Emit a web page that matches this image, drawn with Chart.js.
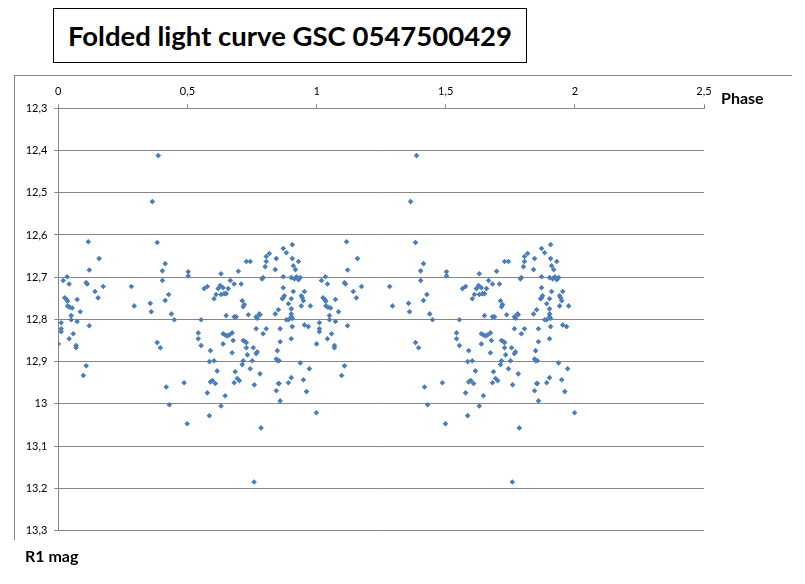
<!DOCTYPE html>
<html>
<head>
<meta charset="utf-8">
<script src="https://cdn.jsdelivr.net/npm/chart.js@4.4.1/dist/chart.umd.min.js"></script>
<style>
  html, body { margin: 0; padding: 0; background: #fff; }
  #wrap { position: relative; width: 805px; height: 584px; overflow: hidden; }
  #frame { position: absolute; left: 14px; top: 75px; width: 777px; height: 464px;
           border-left: 1px solid #868686; border-top: 1px solid #868686; }
  #title { position: absolute; left: 53px; top: 8px; width: 472px; height: 53px;
           border: 1px solid #000; display: flex; align-items: center; justify-content: center;
           font: bold 27.5px Lato, sans-serif; color: #000; }
  .axlbl { position: absolute; font: bold 16px Lato, sans-serif; color: #000; }
  #chart { position: absolute; left: 0; top: 0; }
</style>
</head>
<body>
<div id="wrap">
  <div id="frame"></div>
  <div id="title">Folded light curve GSC 0547500429</div>
  <canvas id="chart" width="805" height="584"></canvas>
  <div class="axlbl" style="left:721px; top:88px;">Phase</div>
  <div class="axlbl" style="left:25px; top:546px;">R1 mag</div>
</div>
<script>
// folded data, one cycle (phase 0..1); the chart shows it twice (phase and phase + 1)
const phase = [
  0.387, 0.364, 0.116, 0.383, 0.158, 0.414, 0.120, 0.403, 0.503, 0.503,
  0.034, 0.019, 0.042, 0.108, 0.112, 0.403, 0.174, 0.283, 0.142, 0.427,
  0.025, 0.032, 0.036, 0.073, 0.154, 0.414, 0.294, 0.356, 0.360, 0.036,
  0.044, 0.054, 0.085, 0.050, 0.050, 0.073, 0.011, 0.438, 0.449, 0.120,
  0.011, 0.011, 0.058, 0.042, 0.000, 0.069, 0.069, 0.383, 0.395, 0.108,
  0.097, 0.418, 0.487, 0.430, 0.499,
  0.728, 0.743, 0.630, 0.697, 0.666, 0.681, 0.708, 0.565, 0.577, 0.627,
  0.619, 0.638, 0.658, 0.611, 0.630, 0.642, 0.650, 0.603, 0.712, 0.720,
  0.716, 0.650, 0.681, 0.689, 0.736, 0.553,
  0.906, 0.871, 0.883, 0.817, 0.805, 0.805, 0.801, 0.844, 0.906, 0.930,
  0.910, 0.918, 0.840, 0.789, 0.793, 0.871, 0.902, 0.914, 0.922, 0.930,
  0.937, 0.871, 0.910, 0.953, 0.875, 0.871, 0.867, 0.902, 0.941, 0.945,
  0.949, 0.891, 0.941, 0.976, 0.852, 0.902, 0.840, 0.902, 0.902, 0.778,
  0.781, 0.766, 0.770, 0.883, 0.891, 0.906, 0.953, 0.968, 0.906, 0.859,
  0.805, 0.766,
  0.542, 0.542, 0.553, 0.638, 0.646, 0.654, 0.662, 0.673, 0.638, 0.677,
  0.716, 0.724, 0.728, 0.728, 0.755, 0.589, 0.673, 0.732, 0.585, 0.603,
  0.716, 0.712, 0.751, 0.615, 0.685, 0.743, 0.589, 0.597, 0.608, 0.693,
  0.701, 0.681, 0.759, 0.577, 0.646, 0.630, 0.585,
  0.793, 0.859, 0.902, 0.770, 0.766, 0.848, 0.844, 0.848, 0.855, 0.937,
  0.972, 0.781, 0.902, 0.949, 0.852, 0.855, 0.891, 0.844, 0.961, 0.859,
  0.999, 0.785, 0.758
];
const mag = [
  12.412, 12.521, 12.616, 12.618, 12.656, 12.668, 12.683, 12.685, 12.687, 12.697,
  12.699, 12.708, 12.716, 12.713, 12.716, 12.708, 12.722, 12.722, 12.734, 12.741,
  12.749, 12.753, 12.757, 12.753, 12.749, 12.755, 12.768, 12.762, 12.782, 12.768,
  12.771, 12.773, 12.782, 12.791, 12.801, 12.805, 12.808, 12.787, 12.801, 12.815,
  12.822, 12.829, 12.834, 12.846, 12.858, 12.862, 12.867, 12.855, 12.867, 12.910,
  12.933, 12.960, 12.950, 13.002, 13.047,
  12.663, 12.663, 12.692, 12.686, 12.708, 12.716, 12.716, 12.727, 12.722, 12.720,
  12.727, 12.725, 12.727, 12.741, 12.741, 12.739, 12.739, 12.751, 12.756, 12.765,
  12.770, 12.791, 12.794, 12.794, 12.789, 12.801,
  12.623, 12.632, 12.642, 12.644, 12.651, 12.663, 12.675, 12.656, 12.656, 12.663,
  12.673, 12.682, 12.682, 12.704, 12.701, 12.699, 12.701, 12.704, 12.699, 12.706,
  12.701, 12.725, 12.734, 12.734, 12.744, 12.749, 12.751, 12.751, 12.744, 12.749,
  12.756, 12.763, 12.768, 12.768, 12.777, 12.775, 12.787, 12.787, 12.794, 12.787,
  12.789, 12.794, 12.797, 12.801, 12.801, 12.798, 12.813, 12.817, 12.817, 12.822,
  12.822, 12.822,
  12.832, 12.846, 12.862, 12.834, 12.837, 12.839, 12.837, 12.832, 12.858, 12.850,
  12.850, 12.853, 12.855, 12.867, 12.867, 12.874, 12.879, 12.884, 12.900, 12.898,
  12.898, 12.907, 12.898, 12.922, 12.924, 12.917, 12.948, 12.945, 12.952, 12.940,
  12.945, 12.950, 12.955, 12.974, 12.981, 13.005, 13.028,
  12.834, 12.853, 12.846, 12.877, 12.881, 12.874, 12.894, 12.898, 12.898, 12.903,
  12.917, 12.929, 12.938, 12.943, 12.952, 12.952, 12.950, 12.969, 12.971, 12.993,
  13.021, 13.057, 13.185
];
const xTicks = [0, 0.5, 1, 1.5, 2, 2.5];
const yMin = 12.3, yMax = 13.3;

const points = [];
phase.forEach((p, i) => points.push({ x: p, y: mag[i] }));
phase.forEach((p, i) => points.push({ x: p + 1, y: mag[i] }));

const comma = v => String(Math.round(v * 10) / 10).replace('.', ',');
const gray = '#868686';

new Chart(document.getElementById('chart'), {
  type: 'scatter',
  data: {
    datasets: [{
      data: points,
      pointStyle: 'rectRot',
      pointRadius: 2.8,
      borderWidth: 0,
      backgroundColor: '#4A7EBB',
      borderColor: '#4A7EBB'
    }]
  },
  options: {
    responsive: false,
    animation: false,
    layout: { padding: { left: 0, top: 0, right: 101, bottom: 53.5 } },
    plugins: { legend: { display: false }, tooltip: { enabled: false } },
    scales: {
      x: {
        type: 'linear',
        position: 'top',
        min: xTicks[0],
        max: xTicks[xTicks.length - 1],
        afterBuildTicks: s => { s.ticks = xTicks.map(v => ({ value: v })); },
        afterFit: s => { s.height = 108.3; },
        border: { color: gray, width: 1 },
        grid: { drawOnChartArea: false, drawTicks: true, tickLength: 4, color: gray },
        ticks: {
          padding: 6,
          maxRotation: 0,
          color: '#000',
          font: { family: 'Lato', size: 11 },
          callback: v => comma(v)
        }
      },
      y: {
        type: 'linear',
        reverse: true,
        min: yMin,
        max: yMax,
        afterFit: s => { s.width = 58.3; },
        border: { color: gray, width: 1 },
        grid: { color: gray, lineWidth: 1, drawTicks: true, tickLength: 4 },
        ticks: {
          stepSize: 0.1,
          padding: 7,
          color: '#000',
          font: { family: 'Lato', size: 11 },
          callback: v => comma(v)
        }
      }
    }
  }
});
</script>
</body>
</html>
